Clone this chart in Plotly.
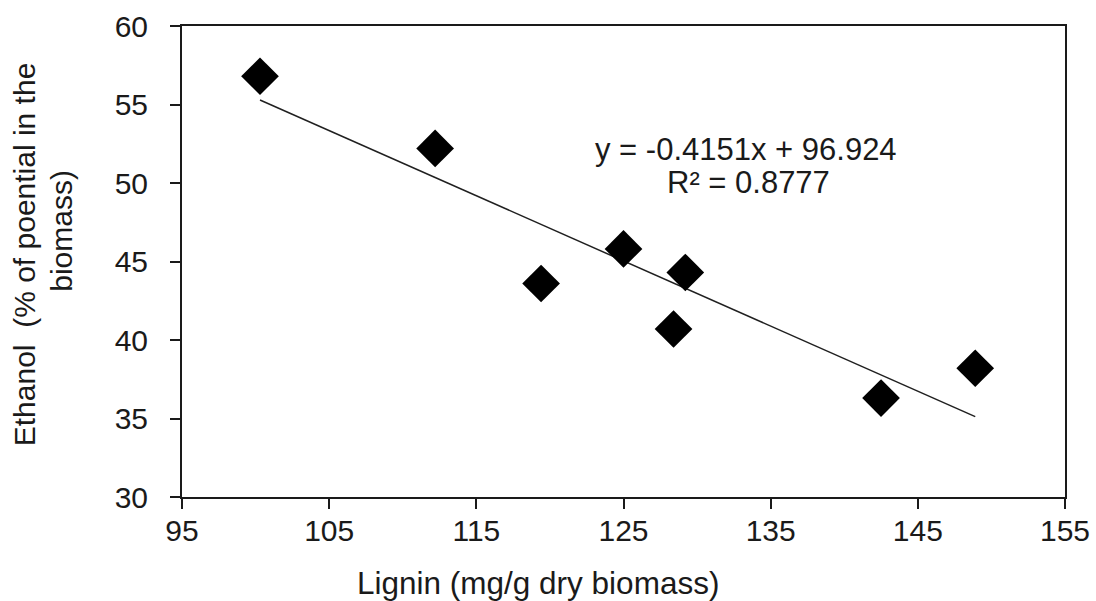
import plotly.graph_objects as go

# Lignin content vs ethanol yield
lignin = [100.3, 112.2, 119.4, 125.0, 129.2, 128.4, 142.5, 148.9]
ethanol = [56.8, 52.2, 43.6, 45.8, 44.3, 40.7, 36.3, 38.2]

# Linear trendline reported for the data
slope = -0.4151
intercept = 96.924
r_squared = 0.8777

x_ticks = [95, 105, 115, 125, 135, 145, 155]
y_ticks = [30, 35, 40, 45, 50, 55, 60]

FONT = "Liberation Sans, Arial, sans-serif"
TXT = "#1a1a1a"

x_fit = [min(lignin), max(lignin)]
y_fit = [slope * v + intercept for v in x_fit]

fig = go.Figure()
fig.add_trace(go.Scatter(
    x=x_fit, y=y_fit, mode="lines",
    line=dict(color="#202020", width=1.5),
    hoverinfo="skip", showlegend=False,
))
fig.add_trace(go.Scatter(
    x=lignin, y=ethanol, mode="markers",
    marker=dict(symbol="diamond", size=29, color="black", line=dict(width=0)),
    showlegend=False,
))

axis_common = dict(
    showgrid=False, zeroline=False, automargin=False,
    showline=True, linecolor="#1a1a1a", linewidth=2, mirror=True,
    ticks="outside", ticklen=10, tickwidth=2, tickcolor="#1a1a1a",
    tickfont=dict(family=FONT, size=30, color=TXT),
)

fig.update_xaxes(range=[95, 155], tickvals=x_ticks,
                 ticktext=[str(v) for v in x_ticks],
                 ticklabelstandoff=-4, **axis_common)
fig.update_yaxes(range=[30, 60], tickvals=y_ticks,
                 ticktext=[str(v) for v in y_ticks],
                 ticklabelstandoff=16, **axis_common)

sign = "+" if intercept >= 0 else "-"
eq_text = f"y = {slope:.4f}x {sign} {abs(intercept):.3f}"
r2_text = f"R² = {r_squared:.4f}"

annotations = [
    dict(text=eq_text, x=0.639, y=0.737, xref="paper", yref="paper",
         showarrow=False, xanchor="center", yanchor="middle",
         font=dict(family=FONT, size=31, color=TXT)),
    dict(text=r2_text, x=0.641, y=0.668, xref="paper", yref="paper",
         showarrow=False, xanchor="center", yanchor="middle",
         font=dict(family=FONT, size=31, color=TXT)),
    dict(text="Lignin (mg/g dry biomass)", x=0.403, y=-0.182,
         xref="paper", yref="paper", showarrow=False,
         xanchor="center", yanchor="middle",
         font=dict(family=FONT, size=31.5, color=TXT)),
    dict(text="Ethanol  (% of poential in the", x=-0.178, y=0.515,
         xref="paper", yref="paper", showarrow=False, textangle=-90,
         xanchor="center", yanchor="middle",
         font=dict(family=FONT, size=30, color=TXT)),
    dict(text="biomass)", x=-0.136, y=0.565,
         xref="paper", yref="paper", showarrow=False, textangle=-90,
         xanchor="center", yanchor="middle",
         font=dict(family=FONT, size=30, color=TXT)),
]

fig.update_layout(
    width=1096, height=601,
    margin=dict(l=182, r=31, t=26, b=104),
    paper_bgcolor="white", plot_bgcolor="white",
    annotations=annotations,
    font=dict(family=FONT, color=TXT),
)

fig.write_html("out.html")
